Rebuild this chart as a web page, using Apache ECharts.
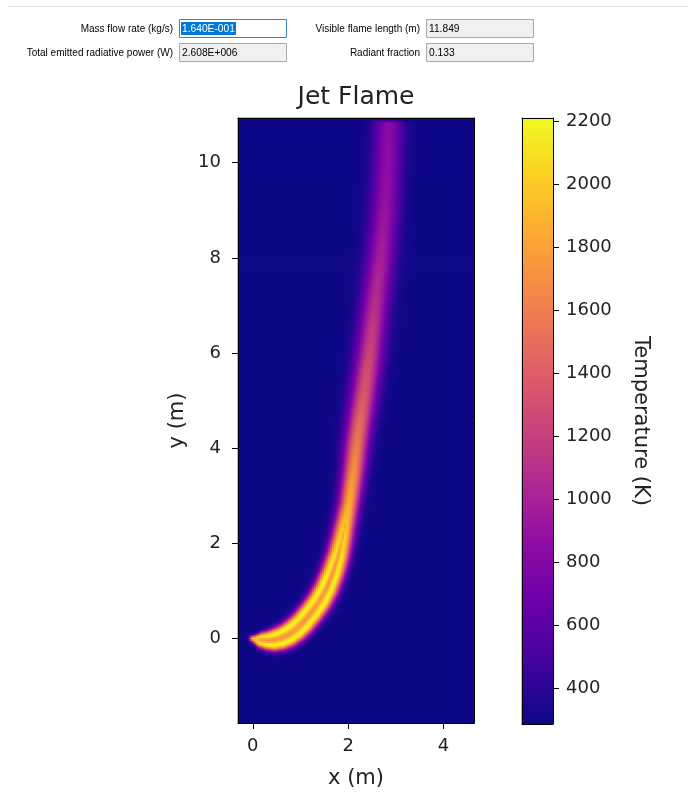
<!DOCTYPE html>
<html><head><meta charset="utf-8">
<script src="https://cdn.jsdelivr.net/npm/echarts@6/dist/echarts.min.js"></script>
<style>html,body{margin:0;padding:0;background:#fff}#c{width:688px;height:794px}</style>
</head><body><div id="c"></div>
<script>
// ---- data ----
const xRange = [-0.31, 4.64];           // plot extent in x (m)
const yRange = [-1.78, 10.94];          // plot extent in y (m)
const tempRange = [286, 2210];          // colour scale (K)
const xTicks = [0, 2, 4];
const yTicks = [0, 2, 4, 6, 8, 10];
const tempTicks = [400, 600, 800, 1000, 1200, 1400, 1600, 1800, 2000, 2200];
const ambientT = 288;
// flame centreline
const flameX = [0.00, 0.15, 0.30, 0.45, 0.60, 0.75, 0.90, 1.05, 1.25, 1.40, 1.55, 1.69, 1.80, 1.88, 2.02, 2.12, 2.20, 2.32, 2.46, 2.57, 2.69, 2.78, 2.83, 2.86];
const flameY = [0.00, -0.03, -0.04, -0.03, 0.01, 0.08, 0.19, 0.33, 0.57, 0.78, 1.05, 1.40, 1.75, 2.10, 2.80, 3.50, 4.20, 5.00, 6.00, 7.00, 8.00, 9.00, 10.00, 10.85];
const flameT = [1950, 2100, 2180, 2200, 2200, 2200, 2200, 2200, 2200, 2200, 2200, 2180, 2130, 2060, 1890, 1730, 1570, 1400, 1240, 1090, 980, 905, 855, 835];
const flameSigma = [0.045, 0.07, 0.08, 0.09, 0.095, 0.098, 0.10, 0.102, 0.105, 0.108, 0.112, 0.117, 0.122, 0.13, 0.145, 0.16, 0.175, 0.19, 0.20, 0.205, 0.21, 0.21, 0.215, 0.215];
const flameRing = [0.00, 0.06, 0.09, 0.11, 0.12, 0.125, 0.125, 0.12, 0.115, 0.11, 0.10, 0.085, 0.065, 0.04, 0.0, 0, 0, 0, 0, 0, 0, 0, 0, 0];
const ringDip = 0.24;
const formLabels = ['Mass flow rate (kg/s)', 'Visible flame length (m)', 'Total emitted radiative power (W)', 'Radiant fraction'];
const formValues = ['1.640E-001', '11.849', '2.608E+006', '0.133'];
const plasma = ['#0d0887','#41049d','#6a00a8','#8f0da4','#b12a90','#cc4778','#e16462','#f2844b','#fca636','#fcce25','#f0f921'];

// ---- temperature field from the centreline ----
function fieldAt(px, py) {
  const n = flameX.length;
  let bestD = Infinity, bi = 0, bt = 0, over = 0;
  for (let i = 0; i < n - 1; i++) {
    const ax = flameX[i], ay = flameY[i], vx = flameX[i+1]-ax, vy = flameY[i+1]-ay;
    const L2 = vx*vx + vy*vy;
    let t = ((px-ax)*vx + (py-ay)*vy) / L2;
    let ov = 0;
    if (t > 1 && i === n - 2) ov = (t - 1) * Math.sqrt(L2);
    t = Math.max(0, Math.min(1, t));
    const cx = ax + t*vx, cy = ay + t*vy;
    const d = Math.hypot(px-cx, py-cy);
    if (d < bestD) { bestD = d; bi = i; bt = t; over = ov; }
  }
  const lerp = (a) => a[bi] + (a[bi+1]-a[bi]) * bt;
  const T = lerp(flameT), s = lerp(flameSigma), r = lerp(flameRing);
  let p;
  if (bestD >= r) p = Math.exp(-0.5 * Math.pow((bestD - r) / s, 2));
  else {
    const dip = ringDip * Math.min(1, r / 0.08);
    p = 1 - dip * Math.pow(1 - Math.pow(bestD / r, 2), 2);
  }
  if (over > 0) p *= Math.exp(-Math.pow(over / 0.04, 2));
  return ambientT + (T - ambientT) * p;
}

const NX = 118, NY = 303;   // 2 px cells
const dx = (xRange[1]-xRange[0]) / NX, dy = (yRange[1]-yRange[0]) / NY;
const xCats = [], yCats = [], heat = [];
for (let i = 0; i < NX; i++) xCats.push((xRange[0] + (i+0.5)*dx).toFixed(3));
for (let j = 0; j < NY; j++) yCats.push((yRange[0] + (j+0.5)*dy).toFixed(3));
for (let j = 0; j < NY; j++) {
  const cy = yRange[0] + (j+0.5)*dy;
  for (let i = 0; i < NX; i++) {
    const cx = xRange[0] + (i+0.5)*dx;
    heat.push([i, j, Math.round(fieldAt(cx, cy))]);
  }
}
const NC = 303, cbCats = [], cbData = [];
for (let k = 0; k < NC; k++) {
  const v = tempRange[0] + (k+0.5) * (tempRange[1]-tempRange[0]) / NC;
  cbCats.push(v.toFixed(1));
  cbData.push([0, k, v]);
}

const FONT = 'DejaVu Sans';
const lineOnly = (extra) => Object.assign({
  z: 5, axisLine: {show: true, onZero: false, lineStyle: {color: '#000', width: 1}},
  axisTick: {show: false}, axisLabel: {show: false}, splitLine: {show: false}
}, extra);
const valAxis = (extra, ticks, fs, margin) => Object.assign({
  type: 'value', z: 5,
  axisLine: {show: true, onZero: false, lineStyle: {color: '#000', width: 1}},
  axisTick: {show: true, length: 6, customValues: ticks, lineStyle: {color: '#000', width: 1}},
  axisLabel: {customValues: ticks, fontSize: fs, color: '#222', fontFamily: FONT, margin: margin, formatter: (v) => String(v)},
  splitLine: {show: false},
  nameLocation: 'middle',
  nameTextStyle: {fontSize: 21, color: '#222', fontFamily: FONT}
}, extra);

// ---- form (top panel) ----
const g = [];
g.push({type: 'rect', shape: {x: 8, y: 6, width: 680, height: 1}, style: {fill: '#e2e2e2'}});
const boxX = [179, 426], rowY = [19, 43], labelRight = [173, 420];
for (let k = 0; k < 4; k++) {
  const col = k % 2, row = Math.floor(k / 2);
  const focused = k === 0;
  g.push({type: 'text', x: labelRight[col], y: rowY[row] + 9.5, scaleX: 0.91,
    style: {text: formLabels[k], x: 0, y: 0, align: 'right', verticalAlign: 'middle',
    fontSize: 11, fontFamily: 'Liberation Sans', fill: '#000'}});
  g.push({type: 'rect', shape: {x: boxX[col] + 0.5, y: rowY[row] + 0.5, width: 107, height: 18},
    style: {fill: focused ? '#ffffff' : '#f0f0f0', stroke: focused ? '#3c84c8' : '#a9a9a9', lineWidth: 1}});
  if (focused) g.push({type: 'rect', shape: {x: boxX[col] + 2, y: rowY[row] + 3, width: 55, height: 13}, style: {fill: '#0078d7'}});
  g.push({type: 'text', x: boxX[col] + 3, y: rowY[row] + 9.5, scaleX: 0.93,
    style: {text: formValues[k], x: 0, y: 0, align: 'left', verticalAlign: 'middle',
    fontSize: 11, fontFamily: 'Liberation Sans', fill: focused ? '#fff' : '#000'}});
}

const chart = echarts.init(document.getElementById('c'), null, {renderer: 'canvas'});
chart.setOption({
  animation: false,
  backgroundColor: '#fff',
  title: {text: 'Jet Flame', left: 351, top: 80, textAlign: 'center',
    textStyle: {fontFamily: FONT, fontSize: 25, fontWeight: 'normal', color: '#222'}},
  grid: [
    {left: 238, top: 118, width: 236, height: 606, show: true, backgroundColor: plasma[0], borderWidth: 0},
    {left: 522, top: 118, width: 31, height: 606}
  ],
  xAxis: [
    lineOnly({type: 'category', gridIndex: 0, data: xCats, position: 'top'}),
    valAxis({gridIndex: 0, position: 'bottom', min: xRange[0], max: xRange[1], name: 'x (m)', nameGap: 45}, xTicks, 18, 14),
    lineOnly({type: 'category', gridIndex: 1, data: ['T'], position: 'bottom'}),
    lineOnly({type: 'category', gridIndex: 1, data: ['T'], position: 'top'})
  ],
  yAxis: [
    lineOnly({type: 'category', gridIndex: 0, data: yCats, position: 'right'}),
    valAxis({gridIndex: 0, position: 'left', min: yRange[0], max: yRange[1], name: 'y (m)', nameGap: 50}, yTicks, 18, 17),
    lineOnly({type: 'category', gridIndex: 1, data: cbCats, position: 'left'}),
    valAxis({gridIndex: 1, position: 'right', min: tempRange[0], max: tempRange[1], name: 'Temperature (K)', nameGap: 77, nameRotate: -90}, tempTicks, 18, 13)
  ],
  visualMap: {type: 'continuous', show: false, min: tempRange[0], max: tempRange[1], dimension: 2, seriesIndex: [0, 1], inRange: {color: plasma}},
  series: [
    {type: 'heatmap', xAxisIndex: 0, yAxisIndex: 0, data: heat, progressive: 0, emphasis: {disabled: true}, silent: true},
    {type: 'heatmap', xAxisIndex: 2, yAxisIndex: 2, data: cbData, progressive: 0, emphasis: {disabled: true}, silent: true}
  ],
  graphic: g
});
</script></body></html>
